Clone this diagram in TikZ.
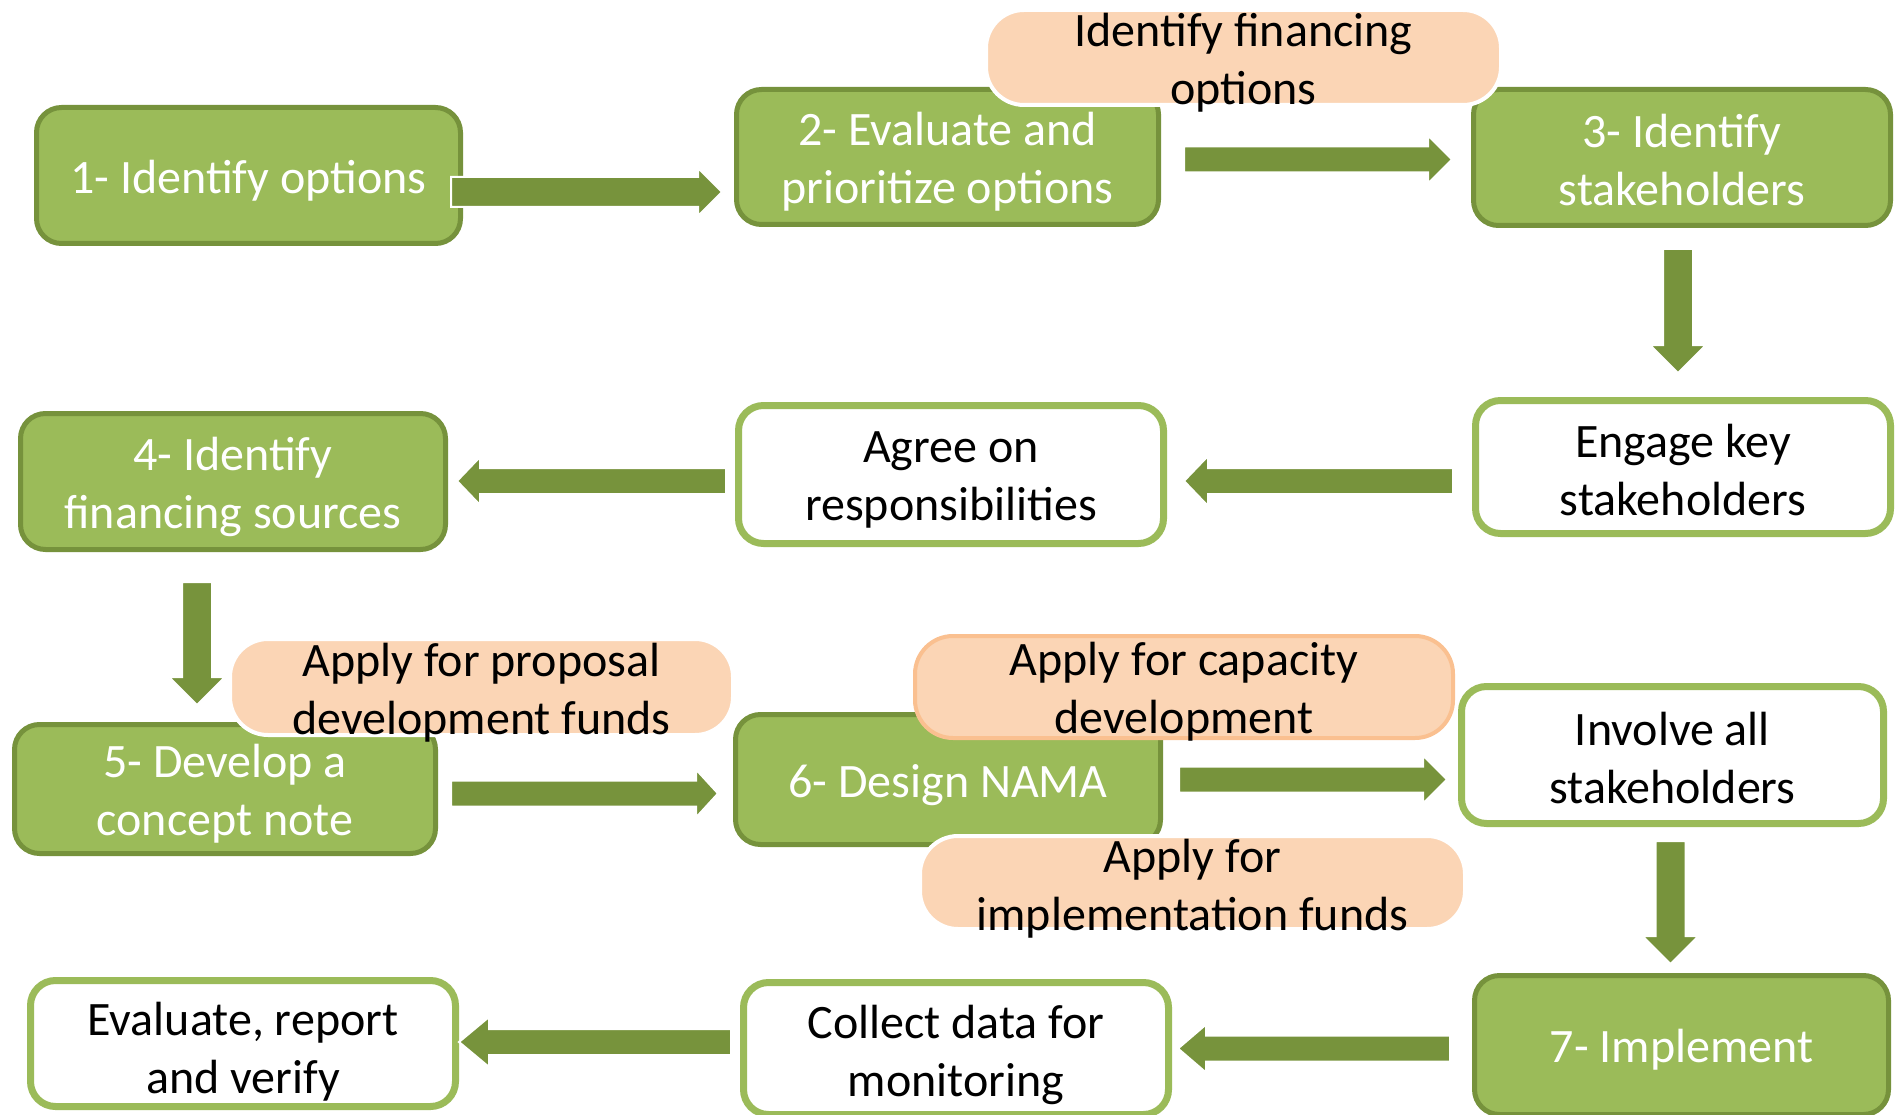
\documentclass[tikz,border=0pt]{standalone}
\usepackage{fontspec}
\setmainfont{Carlito}
\usetikzlibrary{calc}

\definecolor{leaf}{HTML}{9BBB59}
\definecolor{leafdark}{HTML}{76923C}
\definecolor{arrowgreen}{HTML}{77933C}
\definecolor{peach}{HTML}{FBD5B5}
\definecolor{peachedge}{HTML}{FAC090}

\tikzset{
  basebox/.style={rectangle, rounded corners=25, inner sep=0pt},
  stepbox/.style={basebox, fill=leaf, draw=leafdark, line width=5},
  taskbox/.style={basebox, fill=white, draw=leaf, line width=7},
  fundnote/.style={basebox, rounded corners=38, fill=peach, draw=white, line width=4},
  caption/.style={inner sep=0pt, align=center, font=\fontsize{48}{58}\selectfont},
  white text/.style={label={[caption, text=white, yshift=-5pt]center:{#1}}},
  black text/.style={label={[caption, text=black, yshift=-5pt]center:{#1}}},
  arrowbody/.style={fill=arrowgreen, draw=white, line width=2}
}

% block arrow: #1 start, #2 tip, #3 half shaft width, #4 half head width, #5 head length
\newcommand{\blockarrow}[5]{%
  \path ($(#2)!#5!(#1)$) coordinate (headbase);
  \filldraw[arrowbody]
    ($(#1)!#3!90:(#2)$) -- ($(headbase)!#3!90:(#2)$) -- ($(headbase)!#4!90:(#2)$)
    -- (#2) -- ($(headbase)!#4!-90:(#2)$) -- ($(headbase)!#3!-90:(#2)$)
    -- ($(#1)!#3!-90:(#2)$) -- cycle;
}

\begin{document}
\begin{tikzpicture}[x=1pt, y=-1pt]
\useasboundingbox (0,0) rectangle (1895,1115);
\clip (0,0) rectangle (1895,1115);
\fill[white] (0,0) rectangle (1895,1115);

% first row
\node[stepbox, minimum width=424, minimum height=136,
  white text={1- Identify options}] (s1) at (248.5,175.5) {};
\node[stepbox, minimum width=422, minimum height=135,
  white text={2- Evaluate and\\prioritize options}] (s2) at (947.5,157) {};
\node[stepbox, minimum width=417, minimum height=136,
  label={[caption, text=white, yshift=-3pt]center:{3- Identify\\stakeholders}}] (s3) at (1682,157.5) {};

% second row
\node[taskbox, minimum width=415, minimum height=133,
  label={[caption, text=black, yshift=-3pt]center:{Engage key\\stakeholders}}] (engage) at (1683,467) {};
\node[taskbox, minimum width=425, minimum height=138,
  black text={Agree on\\responsibilities}] (agree) at (951,474.5) {};
\node[stepbox, minimum width=425, minimum height=136,
  white text={4- Identify\\financing sources}] (s4) at (233,481.5) {};

% third row
\node[stepbox, minimum width=421, minimum height=129,
  white text={5- Develop a\\concept note}] (s5) at (225,789) {};
\node[stepbox, minimum width=425, minimum height=130,
  label={[caption, text=white, yshift=-6pt]center:{6- Design NAMA}}] (s6) at (948,779.5) {};
\node[taskbox, minimum width=422, minimum height=137,
  label={[caption, text=black, yshift=-3pt]center:{Involve all\\stakeholders}}] (involve) at (1672.5,755) {};

% fourth row
\node[stepbox, minimum width=414, minimum height=139,
  white text={7- Implement}] (s7) at (1681.5,1045) {};
\node[taskbox, minimum width=425, minimum height=132,
  label={[caption, text=black, yshift=-6pt]center:{Collect data for\\monitoring}}] (collect) at (956,1048.5) {};
\node[taskbox, minimum width=425, minimum height=126,
  label={[caption, text=black, yshift=-8.5pt]center:{Evaluate, report\\and verify}}] (evaluate) at (243,1043.5) {};

% arrow ends
\coordinate (a1s) at (451,192);     \coordinate (a1t) at (722,192);
\coordinate (a2s) at (1184,159.5);  \coordinate (a2t) at (1452,159.5);
\coordinate (a3s) at (1678,249);    \coordinate (a3t) at (1678,373);
\coordinate (a4s) at (1453,481);    \coordinate (a4t) at (1184,481);
\coordinate (a5s) at (726,481);     \coordinate (a5t) at (457,481);
\coordinate (a6s) at (197,582);     \coordinate (a6t) at (197,705);
\coordinate (a7s) at (451,793.5);   \coordinate (a7t) at (718,793.5);
\coordinate (a8s) at (1179,779.5);  \coordinate (a8t) at (1447,779.5);
\coordinate (a9s) at (1670.5,841);  \coordinate (a9t) at (1670.5,964);
\coordinate (a10s) at (1450,1048.5); \coordinate (a10t) at (1178,1048.5);
\coordinate (a11s) at (731,1042);   \coordinate (a11t) at (459,1042);

\blockarrow{a1s}{a1t}{15pt}{24pt}{24pt}
\blockarrow{a2s}{a2t}{13pt}{24pt}{24pt}
\blockarrow{a3s}{a3t}{15pt}{28pt}{28pt}
\blockarrow{a4s}{a4t}{13pt}{25pt}{24pt}
\blockarrow{a5s}{a5t}{13pt}{24pt}{23pt}
\blockarrow{a6s}{a6t}{15pt}{28pt}{28pt}
\blockarrow{a7s}{a7t}{13pt}{24pt}{22pt}
\blockarrow{a8s}{a8t}{13pt}{24pt}{24pt}
\blockarrow{a9s}{a9t}{15pt}{28pt}{28pt}
\blockarrow{a10s}{a10t}{13pt}{24pt}{28pt}
\blockarrow{a11s}{a11t}{13pt}{25pt}{30pt}

% funding notes
\node[fundnote, minimum width=515, minimum height=95,
  black text={Identify financing\\options}] (finopt) at (1243.5,57.5) {};
\node[fundnote, minimum width=503, minimum height=96,
  label={[caption, text=black, yshift=-5.5pt]center:{Apply for proposal\\development funds}}] (propfund) at (481.5,687) {};
\node[fundnote, draw=peachedge, minimum width=538, minimum height=102,
  black text={Apply for capacity\\development}] (capfund) at (1184,687) {};
\node[fundnote, minimum width=545, minimum height=93,
  label={[caption, text=black, yshift=-6.5pt]center:{Apply for\\implementation funds}}] (impfund) at (1192.5,882.5) {};
\end{tikzpicture}
\end{document}
